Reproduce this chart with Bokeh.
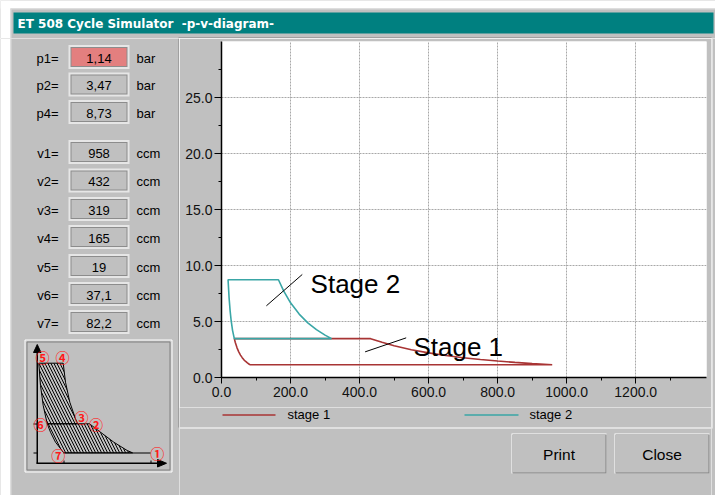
from bokeh.plotting import figure
from bokeh.layouts import row, column
from bokeh.models import Range1d, FixedTicker, PrintfTickFormatter
from bokeh.embed import file_html
from bokeh.resources import INLINE

# ---- cycle data (volume in ccm, pressure in bar) ----
stage1_v = [82.2, 958, 900, 850, 800, 750, 700, 650, 600, 550, 500, 465, 432,
            37.1, 40, 45, 50, 55, 60, 65, 70, 75, 82.2]
stage1_p = [1.14, 1.14, 1.24, 1.35, 1.47, 1.61, 1.77, 1.96, 2.20, 2.48, 2.83, 3.14, 3.47,
            3.47, 3.12, 2.65, 2.29, 2.00, 1.77, 1.58, 1.43, 1.30, 1.14]

stage2_v = [319, 300, 275, 250, 225, 200, 180, 165, 19, 22, 25, 28, 32, 37.1, 319]
stage2_p = [3.47, 3.78, 4.27, 4.88, 5.66, 6.67, 7.73, 8.73, 8.73, 7.11, 5.95, 5.07, 4.21, 3.47, 3.47]

# state values shown in the side panel
param_names = ["p1=", "p2=", "p4=", "v1=", "v2=", "v3=", "v4=", "v5=", "v6=", "v7="]
param_values = ["1,14", "3,47", "8,73", "958", "432", "319", "165", "19", "37,1", "82,2"]
param_units = ["bar", "bar", "bar", "ccm", "ccm", "ccm", "ccm", "ccm", "ccm", "ccm"]

series_names = ["stage 1", "stage 2"]

x_major = [0, 200, 400, 600, 800, 1000, 1200]
x_minor = [100, 300, 500, 700, 900, 1100, 1300]
y_major = [0, 5, 10, 15, 20, 25]
y_minor = [2.5, 7.5, 12.5, 17.5, 22.5, 27.5]

GREY = "#c0c0c0"
DARK = "#808080"
TEAL = "#008080"
RED = "#a83434"
CYAN = "#3aa6a6"
FONT = "Liberation Sans"


def panel(x0, x1, y0, y1):
    """A bare figure whose data coordinates are window pixels (y downwards)."""
    f = figure(width=x1 - x0, height=y1 - y0, x_range=Range1d(x0, x1),
               y_range=Range1d(y1, y0), output_backend="svg", toolbar_location=None,
               x_axis_location=None, y_axis_location=None, min_border=0, title=None)
    f.grid.visible = False
    f.outline_line_color = None
    f.background_fill_color = GREY
    f.border_fill_color = GREY
    return f


def rect(f, l, r, t, b, color):
    f.quad(left=[l], right=[r], top=[t], bottom=[b], fill_color=color, line_color=None)


def txt(f, x, y, s, size, color="black", align="left", font=FONT, style="normal"):
    f.text(x=[x], y=[y], text=[s], text_font_size=f"{size}px", text_color=color,
           text_align=align, text_baseline="middle", text_font={"value": font},
           text_font_style=style)


# ---- title strip ----
top = panel(0, 715, 0, 38)
rect(top, 0, 715, 0, 8, "white")
rect(top, 0, 10, 0, 38, "white")
rect(top, 10, 715, 8, 9, "#dcdcdc")
rect(top, 10, 11, 8, 38, "#dcdcdc")
rect(top, 13, 713, 12, 33, TEAL)
rect(top, 178, 711, 37, 38, DARK)
txt(top, 17, 23, "ET 508 Cycle Simulator\u00a0 -p-v-diagram-", 12, color="white",
    font="DejaVu Sans", style="bold")

# ---- left side panel: state values and schematic ----
left = panel(0, 179, 38, 495)
rect(left, 0, 10, 38, 495, "white")
rect(left, 10, 11, 38, 495, "#dcdcdc")
rect(left, 178, 179, 38, 427, DARK)

rows = [56.5, 84, 111.5, 151.5, 180, 208.5, 236.5, 265.5, 293.5, 321.5]
for i, c in enumerate(rows):
    rect(left, 68, 129, c - 12, c + 12, "#e6e6e6")
    rect(left, 70, 127, c - 10, c + 10, "#8c8c8c")
    rect(left, 71, 126, c - 9, c + 9, "#e37f7f" if i == 0 else GREY)
    txt(left, 58, c + 1, param_names[i], 13, align="right")
    txt(left, 98.5, c + 1, param_values[i], 13, align="center")
    txt(left, 136, c + 1, param_units[i], 13)

# schematic frame
left.line([24.5, 171.5, 171.5, 24.5, 24.5], [339.5, 339.5, 471.5, 471.5, 339.5],
          line_color="white", line_width=1)
left.line([26.5, 169.5, 169.5, 26.5, 26.5], [341.5, 341.5, 469.5, 469.5, 341.5],
          line_color=DARK, line_width=1)
# hatched work areas of both stages
left.patches(xs=[[38.3, 62.7, 65, 69.3, 75, 77.3, 46.7, 42.7, 40],
                 [46.7, 89, 100, 113.3, 126.7, 132, 63.3, 55, 50]],
             ys=[[362.7, 362.7, 381.7, 401.7, 418.3, 423.3, 423.3, 405, 385],
                 [423.3, 423.3, 431.7, 441.7, 450, 452.3, 452.3, 441.7, 431.7]],
             fill_alpha=0, line_color="black", line_width=1,
             hatch_pattern="left_diagonal_line", hatch_color="black",
             hatch_scale=6, hatch_weight=1)
left.line([63, 150], [452.5, 452.5], line_color="black", line_width=1)
left.line([36.75, 36.75], [350, 463], line_color="black", line_width=1.5)
left.line([36, 160], [462.75, 462.75], line_color="black", line_width=1.5)
left.patch([33, 36.75, 40.5], [352, 344, 352], fill_color="black", line_color="black")
left.patch([157, 166, 157], [459, 462.75, 466.5], fill_color="black", line_color="black")
left.multi_line(xs=[[33, 37], [33, 37], [63.5, 63.5], [150.5, 150.5]],
                ys=[[423.5, 423.5], [452.5, 452.5], [460, 463], [460, 463]],
                line_color="black", line_width=1)
for cx, cy, t in ((42, 356, "⑤"), (62, 356, "④"), (81, 416, "③"), (95.5, 423.3, "②"),
                  (40, 423.3, "⑥"), (57.7, 454.3, "⑦"), (156.7, 452.3, "①")):
    txt(left, cx, cy, t, 14, color="#ff1a1a", align="center", font="Noto Sans CJK JP",
        style="bold")

# ---- p-v chart ----
p = figure(width=532, height=369, output_backend="svg", toolbar_location=None,
           x_range=Range1d(0, 1405), y_range=Range1d(0, 30), title=None,
           min_border_left=42, min_border_right=5, min_border_top=3, min_border_bottom=30)
p.background_fill_color = "white"
p.border_fill_color = GREY
p.outline_line_color = None

for ax, maj, mnr in ((p.xaxis[0], x_major, x_minor), (p.yaxis[0], y_major, y_minor)):
    ax.ticker = FixedTicker(ticks=maj, minor_ticks=mnr)
    ax.formatter = PrintfTickFormatter(format="%.1f")
    ax.axis_line_color = "black"
    ax.axis_line_width = 1.5
    ax.major_tick_line_color = "black"
    ax.minor_tick_line_color = "black"
    ax.major_tick_in = 0
    ax.minor_tick_in = 0
    ax.major_label_text_font = FONT
    ax.major_label_text_font_size = "14px"
    ax.major_label_text_color = "#111111"
p.xaxis.major_tick_out = 6
p.xaxis.minor_tick_out = 3
p.xaxis.major_label_standoff = 3
p.yaxis.major_tick_out = 7
p.yaxis.minor_tick_out = 3
p.yaxis.major_label_standoff = 2

p.xgrid.ticker = FixedTicker(ticks=x_major)
p.ygrid.ticker = FixedTicker(ticks=y_major)
for g in (p.xgrid[0], p.ygrid[0]):
    g.grid_line_color = "#a8a8a8"
    g.grid_line_dash = "2 1"
    g.grid_line_width = 1

p.line(stage1_v, stage1_p, line_color=RED, line_width=1.6)
p.line(stage2_v, stage2_p, line_color=CYAN, line_width=1.6)

p.segment(x0=[234, 535], y0=[9.2, 3.54], x1=[130, 416], y1=[6.4, 2.29],
          line_color="black", line_width=1)
p.text(x=[258, 556], y=[8.34, 2.68], text=["Stage 2", "Stage 1"],
       text_font_size="26px", text_baseline="alphabetic", text_color="black",
       text_font={"value": FONT})

# ---- legend band and buttons below the chart ----
bottom = panel(179, 711, 407, 495)
rect(bottom, 179, 711, 427, 428, "white")
for (x0, x1, tx), name, color in zip(((222, 275, 287), (464, 518, 529)),
                                    series_names, (RED, CYAN)):
    bottom.line([x0, x1], [414.5, 414.5], line_color=color, line_width=1.6)
    txt(bottom, tx, 414, name, 13)
for l, r, t in ((511, 606, "Print"), (614, 709, "Close")):
    rect(bottom, l, r, 433, 473, "white")
    rect(bottom, l + 1, r, 434, 473, DARK)
    rect(bottom, l + 1, r - 1, 434, 472, GREY)
    txt(bottom, (l + r) / 2, 454, t, 15.5, align="center")

# ---- right edge of the chart panel ----
strip = panel(711, 715, 38, 495)
rect(strip, 711, 712, 38, 428, "white")

middle = column(row(p, spacing=0), row(bottom, spacing=0), spacing=0)
layout = column(top, row(left, middle, strip, spacing=0), spacing=0)
open("out.html", "w").write(file_html(layout, INLINE))
